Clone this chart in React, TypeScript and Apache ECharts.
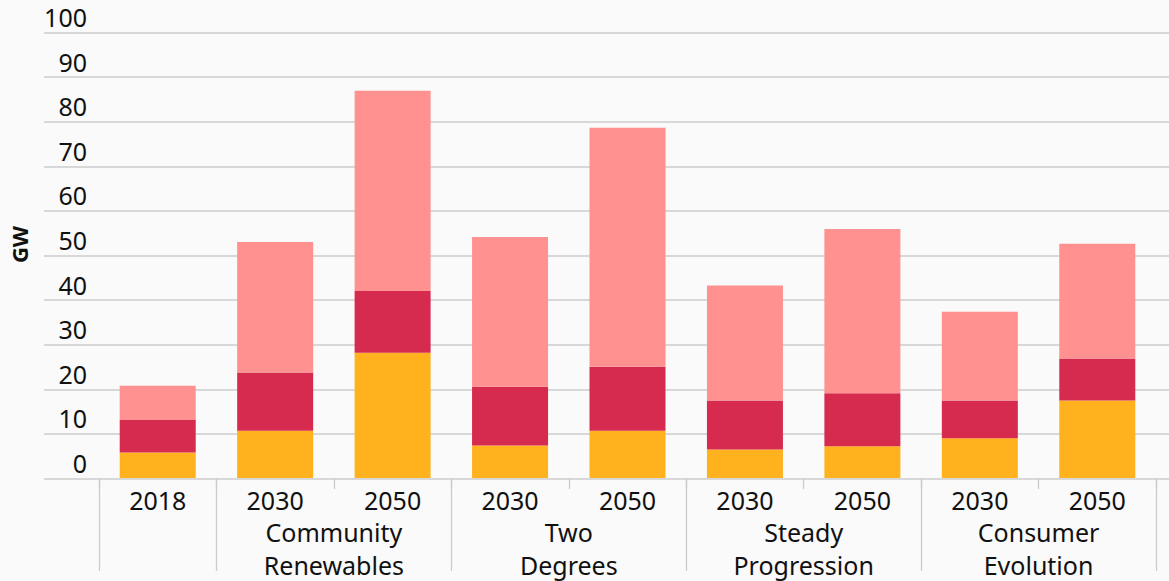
import React, { useEffect, useRef } from "react";
import * as echarts from "echarts";

const categories = ["2018", "2030", "2050", "2030", "2050", "2030", "2050", "2030", "2050"];
const groupNames = ["", "Community\nRenewables", "Two\nDegrees", "Steady\nProgression", "Consumer\nEvolution"];
const groupSizes = [1, 2, 2, 2, 2];
const seriesNames = ["Segment A", "Segment B", "Segment C"];
const orangeValues = [5.7, 10.6, 28.1, 7.3, 10.6, 6.4, 7.1, 8.9, 17.4];
const redValues = [7.3, 13.1, 13.9, 13.2, 14.4, 11.0, 11.9, 8.5, 9.4];
const pinkValues = [7.7, 29.3, 44.9, 33.6, 53.6, 25.8, 36.9, 19.9, 25.8];
const yTicks = [0, 10, 20, 30, 40, 50, 60, 70, 80, 90, 100];
const yTitle = "GW";

const FONT = "'Noto Sans', sans-serif";

export default function App() {
  const ref = useRef<HTMLDivElement>(null);
  useEffect(() => {
    if (!ref.current) return;
    const chart = echarts.init(ref.current, null, { renderer: "svg" });

    const totalSlots = groupSizes.reduce((a, b) => a + b, 0) * 2;
    const groupData: string[] = new Array(totalSlots + 1).fill("");
    const groupBoundaries = new Set<number>([0]);
    const groupCenters = new Set<number>();
    let pos = 0;
    groupSizes.forEach((s, i) => {
      const center = pos + s;
      if (groupNames[i]) {
        groupData[center] = groupNames[i];
        groupCenters.add(center);
      }
      pos += s * 2;
      groupBoundaries.add(pos);
    });

    const top = 32.5;
    const bottom = 102.5;

    chart.setOption({
      animation: false,
      backgroundColor: "#fafafa",
      textStyle: { fontFamily: FONT },
      grid: [
        { left: 43, right: 0, top, bottom, containLabel: false },
        { left: 99, right: 13, top, bottom, containLabel: false },
      ],
      xAxis: [
        { type: "value", gridIndex: 0, show: false, min: 0, max: 1 },
        {
          type: "category",
          gridIndex: 1,
          position: "bottom",
          data: categories,
          axisLine: { show: false },
          axisTick: { show: true, length: 11, lineStyle: { color: "#cccccc", width: 1.3 } },
          axisLabel: { color: "#111", fontSize: 25, fontFamily: FONT, margin: 9, lineHeight: 25 },
        },
        {
          type: "category",
          gridIndex: 1,
          position: "bottom",
          boundaryGap: false,
          data: groupData,
          axisLine: { show: false },
          axisTick: {
            show: true,
            length: 93,
            interval: (idx: number) => groupBoundaries.has(idx),
            lineStyle: { color: "#cccccc", width: 1.3 },
          },
          axisLabel: {
            color: "#111",
            fontSize: 25,
            fontFamily: FONT,
            lineHeight: 33,
            margin: 37,
            interval: (idx: number) => groupCenters.has(idx),
          },
        },
      ],
      yAxis: [
        {
          type: "value",
          gridIndex: 0,
          min: yTicks[0],
          max: yTicks[yTicks.length - 1],
          interval: yTicks[1] - yTicks[0],
          axisLine: { show: false },
          axisTick: { show: false },
          splitLine: { show: true, lineStyle: { color: "#cccccc", width: 1.5 } },
          axisLabel: {
            color: "#111",
            fontSize: 25,
            fontFamily: FONT,
            margin: -43,
            verticalAlign: "bottom",
            lineHeight: 31,
          },
          name: yTitle,
          nameLocation: "middle",
          nameGap: 14,
          nameTextStyle: {
            fontSize: 22,
            fontWeight: "bold",
            color: "#111",
            fontFamily: FONT,
            padding: [0, 0, 0, 22],
          },
        },
        {
          type: "value",
          gridIndex: 1,
          min: yTicks[0],
          max: yTicks[yTicks.length - 1],
          show: false,
          splitLine: { show: false },
        },
      ],
      series: [
        { name: seriesNames[0], data: orangeValues, color: "#ffb21e" },
        { name: seriesNames[1], data: redValues, color: "#d72a4f" },
        { name: seriesNames[2], data: pinkValues, color: "#ff9190" },
      ].map((s) => ({
        ...s,
        type: "bar",
        stack: "total",
        xAxisIndex: 1,
        yAxisIndex: 1,
        barWidth: 76,
        itemStyle: { color: s.color },
      })),
    });
    return () => chart.dispose();
  }, []);
  return <div ref={ref} style={{ width: 1169, height: 581, position: "absolute", left: 0, top: 0 }} />;
}
